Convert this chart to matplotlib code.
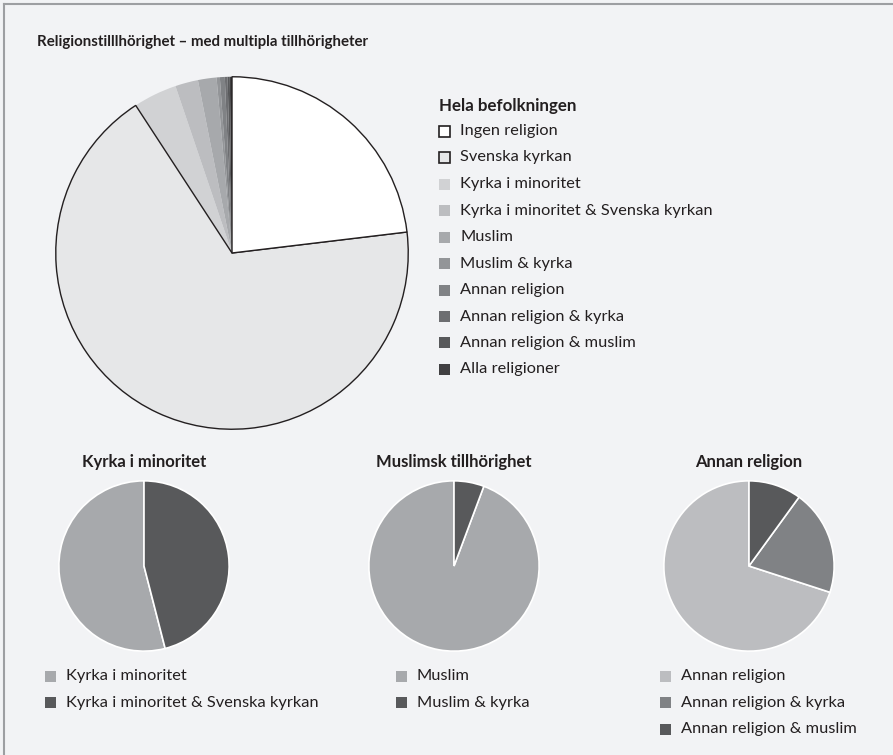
import matplotlib
matplotlib.use('Agg')
from matplotlib import pyplot as plt
from matplotlib.patches import Rectangle
from matplotlib.lines import Line2D

plt.rcParams['font.family'] = ['Lato', 'DejaVu Sans']

W, H = 893, 755
BG = '#f2f3f5'
TXT = '#231f20'

# huvudcirkeln
main_labels = ['Ingen religion', 'Svenska kyrkan', 'Kyrka i minoritet',
               'Kyrka i minoritet & Svenska kyrkan', 'Muslim', 'Muslim & kyrka',
               'Annan religion', 'Annan religion & kyrka', 'Annan religion & muslim',
               'Alla religioner']
main_values = [23.1, 67.7, 4.0, 2.1, 1.7, 0.3, 0.45, 0.25, 0.2, 0.2]
main_colors = ['#ffffff', '#e6e7e8', '#d1d2d4', '#bcbdc0', '#a7a9ac',
               '#939598', '#808285', '#6d6e71', '#58595b', '#414042']

# små cirklar
kyrka_labels = ['Kyrka i minoritet', 'Kyrka i minoritet & Svenska kyrkan']
kyrka_values = [54, 46]
kyrka_colors = ['#a7a9ac', '#58595b']

muslim_labels = ['Muslim', 'Muslim & kyrka']
muslim_values = [94.3, 5.7]
muslim_colors = ['#a7a9ac', '#58595b']

annan_labels = ['Annan religion', 'Annan religion & kyrka', 'Annan religion & muslim']
annan_values = [70, 20, 10]
annan_colors = ['#bcbdc0', '#808285', '#58595b']


def px_axes(fig, cx, cy, r):
    # axes i pixelkoordinater (y uppifrån)
    return fig.add_axes([(cx - r) / W, (H - cy - r) / H, 2 * r / W, 2 * r / H])


def legend(fig, x, y, labels, colors, step=26.5, outline=None, size=11.8):
    for i, (lab, col) in enumerate(zip(labels, colors)):
        yy = y + i * step
        ec = '#231f20' if outline and i < outline else 'none'
        fig.patches.append(Rectangle((x / W, (H - yy - 5.5) / H), 11 / W, 11 / H,
                                     transform=fig.transFigure, facecolor=col,
                                     edgecolor=ec, linewidth=1.2))
        fig.text((x + 21) / W, (H - yy) / H, lab, fontsize=size, color=TXT,
                 va='center', ha='left')


fig = plt.figure(figsize=(W / 100, H / 100), dpi=100)
fig.patch.set_facecolor(BG)

# ram
fig.add_artist(Line2D([4 / W, 4 / W], [0, 1 - 4 / H], transform=fig.transFigure,
                      color='#9d9fa2', lw=1.5))
fig.add_artist(Line2D([4 / W, 1], [1 - 4 / H, 1 - 4 / H], transform=fig.transFigure,
                      color='#9d9fa2', lw=1.5))

fig.text(37 / W, (H - 42) / H, 'Religionstilllhörighet – med multipla tillhörigheter',
         fontsize=10.8, fontweight='bold', color=TXT, va='center', ha='left')

ax = px_axes(fig, 232, 253, 178)
wedges, _ = ax.pie(main_values, colors=main_colors, startangle=90, counterclock=False,
                   wedgeprops=dict(linewidth=0))
for w in wedges[:2]:
    w.set_edgecolor('#231f20')
    w.set_linewidth(1.0)
    w.set_zorder(5)
wedges[1].set_zorder(4)
ax.set_xlim(-1.01, 1.01)
ax.set_ylim(-1.01, 1.01)
ax.axis('off')

fig.text(439 / W, (H - 106) / H, 'Hela befolkningen', fontsize=12.2,
         fontweight='bold', color=TXT, va='center', ha='left')
legend(fig, 439, 131, main_labels, main_colors, outline=2)

small = [(144, 'Kyrka i minoritet', kyrka_values, kyrka_colors, kyrka_labels, 45),
         (454, 'Muslimsk tillhörighet', muslim_values, muslim_colors, muslim_labels, 396),
         (749, 'Annan religion', annan_values, annan_colors, annan_labels, 660)]
for cx, title, vals, cols, labs, lx in small:
    a = px_axes(fig, cx, 566, 86)
    a.pie(vals, colors=cols, startangle=90, counterclock=True,
          wedgeprops=dict(edgecolor='white', linewidth=1.2))
    a.set_xlim(-1.01, 1.01)
    a.set_ylim(-1.01, 1.01)
    a.axis('off')
    fig.text(cx / W, (H - 462) / H, title, fontsize=12, fontweight='bold',
             color=TXT, va='center', ha='center')
    legend(fig, lx, 676, labs, cols)

fig.savefig('out.png', dpi=100, facecolor=BG)
